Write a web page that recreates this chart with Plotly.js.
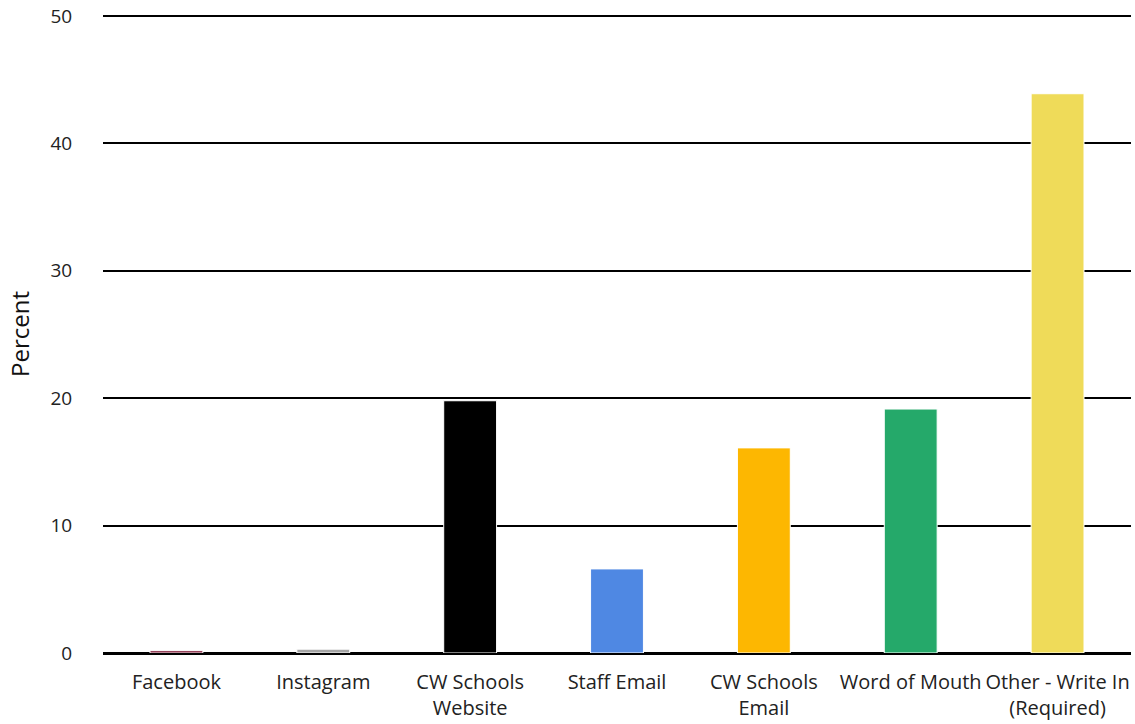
<!DOCTYPE html>
<html>
<head>
<meta charset="utf-8">
<script src="https://cdn.plot.ly/plotly-3.0.1.min.js"></script>
<style>html,body{margin:0;padding:0;background:#fff;}#chart{width:1135px;height:724px;}</style>
</head>
<body>
<div id="chart"></div>
<script>
const categories = ["Facebook", "Instagram", "CW Schools<br>Website", "Staff Email", "CW Schools<br>Email", "Word of Mouth", "Other - Write In<br>(Required)"];
const percentValues = [0.18, 0.3, 19.8, 6.6, 16.1, 19.15, 43.9];
const barColors = ["#7a1230", "#a5a5a5", "#000000", "#4f88e3", "#fdb701", "#25a96a", "#efdb59"];
const yTicks = [0, 10, 20, 30, 40, 50];

const trace = {
  type: "bar",
  x: categories,
  y: percentValues,
  marker: { color: barColors, line: { color: "#ffffff", width: 1 } },
  width: 0.36,
  hoverinfo: "x+y"
};

const layout = {
  width: 1135,
  height: 724,
  margin: { l: 103, r: 4, t: 15, b: 71 },
  paper_bgcolor: "#ffffff",
  plot_bgcolor: "#ffffff",
  font: { family: "Open Sans, sans-serif", size: 20, color: "#222222" },
  showlegend: false,
  bargap: 0.64,
  xaxis: {
    type: "category",
    showgrid: false,
    showline: true,
    linecolor: "#000000",
    linewidth: 2,
    ticks: "outside",
    ticklen: 10,
    tickcolor: "rgba(0,0,0,0)",
    tickfont: { size: 20, color: "#222222" },
    automargin: false
  },
  yaxis: {
    range: [0, 50.08],
    tickvals: yTicks,
    ticktext: yTicks.map(String),
    showgrid: true,
    gridcolor: "#000000",
    gridwidth: 1.5,
    zeroline: true,
    zerolinecolor: "#000000",
    zerolinewidth: 2,
    showline: false,
    ticks: "outside",
    ticklen: 26,
    tickcolor: "rgba(0,0,0,0)",
    tickfont: { size: 19, color: "#222222" },
    title: { text: "Percent", font: { size: 24, color: "#111111" }, standoff: 14 },
    automargin: false,
    fixedrange: true
  }
};

Plotly.newPlot("chart", [trace], layout, { displayModeBar: false });
</script>
</body>
</html>
